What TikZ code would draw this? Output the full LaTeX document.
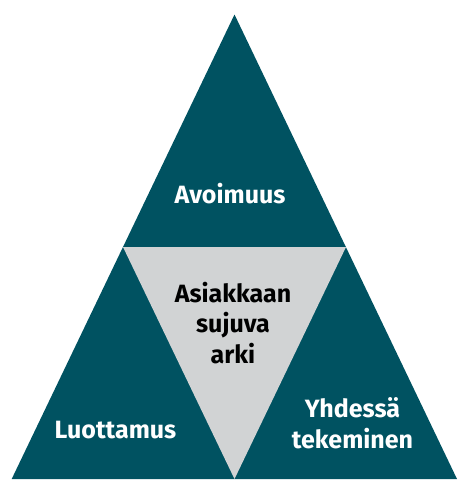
\documentclass[tikz,border=0pt]{standalone}
\usepackage{fontspec}
\setmainfont{Fira Sans}
\usepackage{tikz}
\definecolor{cteal}{rgb}{0.0, 0.322, 0.38}
\definecolor{cgrey}{rgb}{0.82, 0.827, 0.831}

\begin{document}
\begin{tikzpicture}[x=1pt, y=-1pt]
  \tikzset{label/.style={font=\fontsize{25}{30.5}\selectfont\bfseries, align=center, inner sep=0pt}}

  \useasboundingbox (0, 0) rectangle (472, 496);

  \fill [fill=cteal] (234.5, 14.5) -- (11.7, 479) -- (457, 479) -- cycle;
  \fill [fill=cgrey] (123, 247) -- (346, 247) -- (234.5, 479) -- cycle;

  \node [label, white, anchor=base] (top) at (230, 203) {Avoimuus};
  \node [label, anchor=base] (centre) at (233, 363) {Asiakkaan\\sujuva\\arki};
  \node [label, white, anchor=base] (left) at (115.5, 438) {Luottamus};
  \node [label, white, anchor=base] (right) at (352.5, 448) {Yhdessä\\tekeminen};

\end{tikzpicture}
\end{document}
